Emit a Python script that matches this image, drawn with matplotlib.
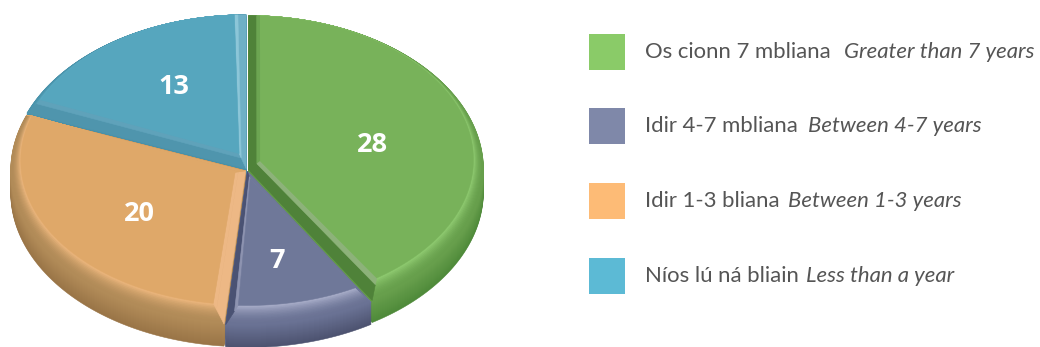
import numpy as np
import matplotlib
matplotlib.use("Agg")
import matplotlib.pyplot as plt
from matplotlib.patches import Polygon, Rectangle
from matplotlib.colors import to_rgb

values = [28, 7, 20, 13]
irish = ["Os cionn 7 mbliana", "Idir 4-7 mbliana", "Idir 1-3 bliana", "Níos lú ná bliain"]
english = ["Greater than 7 years", "Between 4-7 years", "Between 1-3 years", "Less than a year"]
legend_colors = ["#8ACB68", "#7F88A9", "#FDBB76", "#5CBAD5"]
top_colors = ["#78B25A", "#6F7899", "#DFA869", "#56A6BE"]
highlight = ["#93CF74", "#AEB3CE", "#F2BA80", "#5FB0C8"]
mid_colors = ["#679F4C", "#6A7294", "#B18B58", "#4A93AB"]
dark_colors = ["#4F8A3A", "#4D5370", "#9A7547", "#3F8298"]
start_outer = ["#4F8239", "#6F7899", "#EDB885", "#4F95AD"]
start_inner = ["#6CA552", "#6F7899", "#EDB885", "#5FA2BA"]
end_outer = ["#4F8239", "#4A5273", "#DFA869", "#6FB0C6"]
end_inner = ["#8DB27A", "#8D93B0", "#DFA869", "#8CC6D8"]
label_xy = [(372, 145), (277, 261), (139, 214), (174, 87)]
italic_x = [844, 808, 788, 806]
legend_y = [34, 108, 183, 258]

CX, CY, A, B = 247, 170, 235, 154
ICY, IA, IB = 160, 225, 144
DEPTH, DELTA, INSET, EXPLODE = 22, 3.0, 14, 1.5

fig = plt.figure(figsize=(10.4, 3.47), dpi=100)
ax = fig.add_axes([0, 0, 1, 1])
ax.set_xlim(0, 1040)
ax.set_ylim(347, 0)
ax.axis("off")


def arc(t0, t1, a, b, cx, cy):
    t = np.radians(np.linspace(t0, t1, 120))
    return np.column_stack([cx + a * np.sin(t), cy - b * np.cos(t)])


def mix(c1, c2, f):
    return tuple((1 - f) * np.array(to_rgb(c1)) + f * np.array(to_rgb(c2)))


def add(pts, color):
    ax.add_patch(Polygon(pts, closed=True, fc=color, ec=color, lw=0.4))


def edge(ia, ic, oc, oa, c_out, c_in):
    ia, ic, oc, oa = map(np.array, (ia, ic, oc, oa))
    ma, mc = oa + (ia - oa) * 0.7, oc + (ic - oc) * 0.7
    add([oa, oc, mc, ma], c_out)
    add([ma, mc, ic, ia], c_in)


angles = np.cumsum([0] + values) / sum(values) * 360
order = [3, 0, 2, 1]
for i in order:
    t0, t1 = angles[i], angles[i + 1]
    mid = np.radians((t0 + t1) / 2)
    d = np.array([np.sin(mid), -np.cos(mid)])
    oa = np.array([CX, CY]) + EXPLODE * d
    ia = np.array([CX, CY - 5]) + INSET * d
    for f in np.linspace(1, 0, 23):
        col = mix(mid_colors[i], dark_colors[i], f)
        pts = arc(t0, t1, A, B, oa[0], oa[1] + DEPTH * f)
        add(np.vstack([pts, [oa[0], oa[1] + DEPTH * f]]), col)
    for f in np.linspace(0, 1, 14):
        col = mix(mid_colors[i], highlight[i], f ** 2)
        pts = arc(t0 + DELTA * f, t1 - DELTA * f, A + (IA - A) * f, B + (IB - B) * f,
                  oa[0], oa[1] + (ICY - CY) * f)
        apex = oa + (ia - oa) * f
        add(np.vstack([pts, apex]), col)
    inner = arc(t0 + DELTA, t1 - DELTA, IA, IB, oa[0], oa[1] + ICY - CY)
    outer = arc(t0, t1, A, B, oa[0], oa[1])
    edge(ia, inner[0], outer[0], oa, start_outer[i], start_inner[i])
    edge(ia, inner[-1], outer[-1], oa, end_outer[i], end_inner[i])
    add(np.vstack([inner, ia]), top_colors[i])

for (x, y), v in zip(label_xy, values):
    ax.text(x, y, str(v), color="white", fontsize=19.5, fontweight="bold",
            family="Open Sans", ha="center", va="center")

for y, c, ir, en, ix in zip(legend_y, legend_colors, irish, english, italic_x):
    ax.add_patch(Rectangle((589, y), 36, 36, fc=c, ec="none"))
    ax.text(645, y + 18, ir, family="Lato", fontweight="normal", fontsize=15.9,
            color="#555555", ha="left", va="center")
    ax.text(ix, y + 18, en, family="Lato", fontweight="normal", style="italic", fontsize=15.9,
            color="#555555", ha="left", va="center")

fig.savefig("out.png", dpi=100)
